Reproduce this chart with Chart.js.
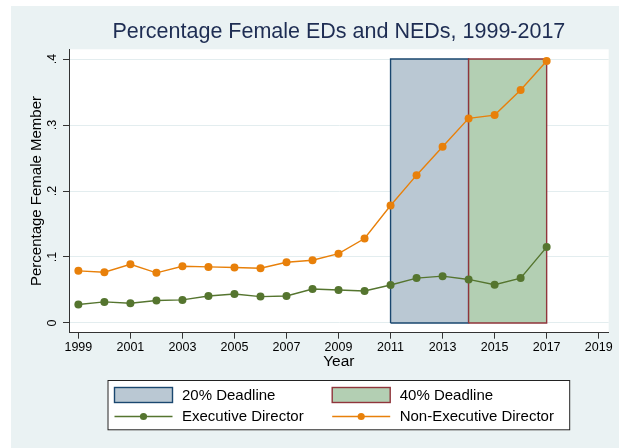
<!DOCTYPE html>
<html>
<head>
<meta charset="utf-8">
<script src="https://cdn.jsdelivr.net/npm/chart.js@4"></script>
<style>
  html, body { margin: 0; padding: 0; background: #ffffff; }
  #chart { position: absolute; left: 11px; top: 6px; background: #eaf2f3; }
</style>
</head>
<body>
<canvas id="chart" width="608" height="442"></canvas>
<script>
// data
const years = [1999, 2000, 2001, 2002, 2003, 2004, 2005, 2006, 2007, 2008, 2009, 2010, 2011, 2012, 2013, 2014, 2015, 2016, 2017]
const execDirector = [0.028, 0.032, 0.030, 0.034, 0.035, 0.041, 0.044, 0.040, 0.041, 0.0515, 0.050, 0.0485, 0.0576, 0.068, 0.071, 0.066, 0.058, 0.068, 0.115]
const nonExecDirector = [0.079, 0.077, 0.089, 0.076, 0.086, 0.085, 0.084, 0.083, 0.092, 0.095, 0.105, 0.128, 0.178, 0.224, 0.267, 0.310, 0.315, 0.353, 0.397]
const deadline20 = [2011, 2014]
const deadline40 = [2014, 2017]
const deadlineTop = 0.4
const xTicks = [1999, 2001, 2003, 2005, 2007, 2009, 2011, 2013, 2015, 2017, 2019]
const yTicks = [0, 0.1, 0.2, 0.3, 0.4]
const yTickLabels = ['0', '.1', '.2', '.3', '.4']
const legendLabels = ['20% Deadline', '40% Deadline', 'Executive Director', 'Non-Executive Director']

const NAVY = '#1a476f'
const MAROON = '#90353b'
const GREEN = '#55752f'
const ORANGE = '#e8800a'
const FILL20 = '#bac8d3'
const FILL40 = '#b3cfb3'
const FONT = "'Liberation Sans', Arial, sans-serif"

Chart.defaults.font.family = FONT
Chart.defaults.color = '#000'

const toPoints = arr => years.map((y, i) => ({ x: y, y: arr[i] }))
const boxTop = span => span.map(x => ({ x: x, y: deadlineTop }))
const boxOutline = span => [
  { x: span[0], y: 0 }, { x: span[0], y: deadlineTop },
  { x: span[1], y: deadlineTop }, { x: span[1], y: 0 }, { x: span[0], y: 0 },
]

const plotBackground = {
  id: 'plotBackground',
  beforeDraw(chart) {
    const { ctx, chartArea: a } = chart
    ctx.save()
    ctx.fillStyle = '#ffffff'
    ctx.fillRect(a.left, a.top, a.right - a.left, a.bottom - a.top)
    ctx.restore()
  },
}

// two-column boxed legend, stata style
const boxedLegend = {
  id: 'boxedLegend',
  afterDraw(chart) {
    const { ctx, chartArea: a } = chart
    const w = 462.7, h = 50.3
    const left = (a.left + a.right) / 2 - w / 2
    const top = a.bottom + 47.3
    ctx.save()
    ctx.fillStyle = '#ffffff'
    ctx.fillRect(left, top, w, h)
    ctx.strokeStyle = '#222'
    ctx.lineWidth = 1
    ctx.strokeRect(left + 0.5, top + 0.5, w - 1, h - 1)

    const cols = [7, 224.7]
    const rows = [15, 36.5]
    const items = [
      { kind: 'box', fill: FILL20, stroke: NAVY },
      { kind: 'box', fill: FILL40, stroke: MAROON },
      { kind: 'line', color: GREEN },
      { kind: 'line', color: ORANGE },
    ]
    ctx.font = '15px ' + FONT
    ctx.textBaseline = 'middle'
    ctx.textAlign = 'left'
    items.forEach((it, i) => {
      const x = left + cols[i % 2]
      const y = top + rows[Math.floor(i / 2)]
      if (it.kind === 'box') {
        ctx.fillStyle = it.fill
        ctx.fillRect(x, y - 7.5, 58, 15)
        ctx.strokeStyle = it.stroke
        ctx.lineWidth = 1.4
        ctx.strokeRect(x, y - 7.5, 58, 15)
      } else {
        ctx.strokeStyle = it.color
        ctx.lineWidth = 1.4
        ctx.beginPath()
        ctx.moveTo(x, y)
        ctx.lineTo(x + 58, y)
        ctx.stroke()
        ctx.fillStyle = it.color
        ctx.beginPath()
        ctx.arc(x + 29, y, 3.6, 0, Math.PI * 2)
        ctx.fill()
      }
      ctx.fillStyle = '#000'
      ctx.fillText(legendLabels[i], x + 67.5, y + 0.5)
    })
    ctx.restore()
  },
}

new Chart(document.getElementById('chart'), {
  type: 'line',
  data: {
    datasets: [
      {
        label: legendLabels[3],
        data: toPoints(nonExecDirector),
        borderColor: ORANGE,
        backgroundColor: ORANGE,
        borderWidth: 1.4,
        pointRadius: 4,
        pointBorderWidth: 0,
        pointBackgroundColor: ORANGE,
        order: 0,
      },
      {
        label: legendLabels[2],
        data: toPoints(execDirector),
        borderColor: GREEN,
        backgroundColor: GREEN,
        borderWidth: 1.4,
        pointRadius: 4,
        pointBorderWidth: 0,
        pointBackgroundColor: GREEN,
        order: 1,
      },
      {
        label: legendLabels[1] + ' outline',
        data: boxOutline(deadline40),
        borderColor: MAROON,
        borderWidth: 1.4,
        pointRadius: 0,
        fill: false,
        order: 2,
      },
      {
        label: legendLabels[1],
        data: boxTop(deadline40),
        borderWidth: 0,
        pointRadius: 0,
        backgroundColor: FILL40,
        fill: 'origin',
        order: 3,
      },
      {
        label: legendLabels[0] + ' outline',
        data: boxOutline(deadline20),
        borderColor: NAVY,
        borderWidth: 1.4,
        pointRadius: 0,
        fill: false,
        order: 4,
      },
      {
        label: legendLabels[0],
        data: boxTop(deadline20),
        borderWidth: 0,
        pointRadius: 0,
        backgroundColor: FILL20,
        fill: 'origin',
        order: 5,
      },
    ],
  },
  options: {
    responsive: false,
    animation: false,
    layout: { padding: { top: 0, left: 0, right: 10.3, bottom: 76.9 } },
    plugins: {
      legend: { display: false },
      tooltip: { enabled: false },
      title: {
        display: true,
        fullSize: false,
        text: 'Percentage Female EDs and NEDs, 1999-2017',
        color: '#1e2d53',
        font: { size: 21.5, weight: 'normal' },
        padding: { top: 13, bottom: 4.5 },
      },
    },
    scales: {
      x: {
        type: 'linear',
        min: 1998.64,
        max: 2019.385,
        afterBuildTicks: s => { s.ticks = xTicks.map(v => ({ value: v })) },
        afterFit: s => { s.height = 38.4 },
        grid: { drawOnChartArea: false, drawTicks: true, tickLength: 6, tickColor: '#333' },
        border: { display: true, color: '#333', width: 1 },
        ticks: {
          maxRotation: 0,
          autoSkip: false,
          padding: 1,
          font: { size: 12.5 },
          color: '#000',
          callback: v => String(v),
        },
        title: { display: true, text: 'Year', font: { size: 15.5 }, color: '#000', padding: { top: 0, bottom: 0 } },
      },
      y: {
        min: -0.0147,
        max: 0.4147,
        afterBuildTicks: s => { s.ticks = yTicks.map(v => ({ value: v })) },
        afterFit: s => { s.width = 58 },
        grid: { color: '#e3edef', lineWidth: 1, drawTicks: true, tickLength: 6, tickColor: '#333' },
        border: { display: true, color: '#333', width: 1 },
        ticks: {
          minRotation: 90,
          maxRotation: 90,
          crossAlign: 'center',
          padding: 5,
          font: { size: 12.5 },
          color: '#000',
          callback: v => yTickLabels[yTicks.indexOf(v)],
        },
        title: { display: true, text: 'Percentage Female Member', font: { size: 15 }, color: '#000', padding: { top: 16.7, bottom: 0 } },
      },
    },
  },
  plugins: [plotBackground, boxedLegend],
})
</script>
</body>
</html>
